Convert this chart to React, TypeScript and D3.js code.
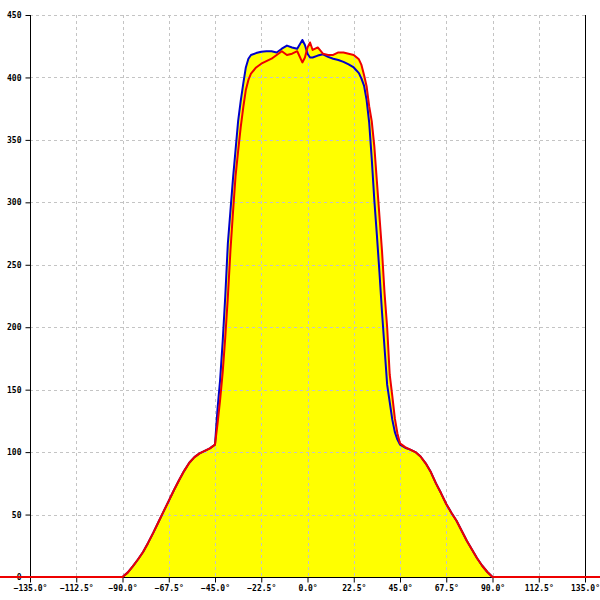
import React, { useRef, useEffect } from 'react';
import * as d3 from 'd3';

// shared sample angles (degrees)
const angles = [
  -180, -90, -87.5, -85, -82.5, -80, -77.5, -75, -72.5, -70, -67.5, -65, -62.5, -60, -57.5, -55, -52.5, -50, -47.5,
  -45, -43.75, -42.5, -41.25, -40, -38.75, -37.5, -36.25, -35, -33.75, -32.5, -31.25, -30, -28.75, -27.5,
  -25, -22.5, -20, -17.5, -15, -12.5, -10, -7.5, -5, -2.5, -1.25, 0, 1.25, 2.5, 5, 7.5, 10, 12.5, 15, 17.5, 20, 22.5,
  25, 26.25, 27.5, 28.75, 30, 31.25, 32.5, 33.75, 35, 36.25, 37.5, 38.75, 40, 41.25, 42.5, 43.75, 45,
  47.5, 50, 52.5, 55, 57.5, 60, 62.5, 65, 67.5, 70, 72.5, 75, 77.5, 80, 82.5, 85, 87.5, 90, 180,
];

const blueValues = [
  0, 0, 3.5, 8.5, 14, 20, 27.5, 35.5, 44, 52.5, 61, 69.5, 77.5, 85, 91.5, 96, 99, 101, 103,
  106, 135, 158, 189, 225, 267, 293, 319, 342, 365, 381, 395, 408, 415, 418,
  419.5, 420.5, 421, 421, 420, 423, 425.5, 424, 423, 430, 426, 419, 416, 416, 417.5, 418.5, 416.5, 415, 414, 412.5, 410.5, 408,
  403.5, 399, 393.5, 382, 364, 335, 302, 274, 244, 212, 183, 154, 140, 126, 116, 110, 106,
  103.5, 102, 100, 96.5, 91, 84, 75, 67, 58.5, 51.5, 45, 37, 29, 22, 15, 9, 4, 0, 0,
];

const redValues = [
  0, 0, 3.5, 8.5, 14, 20, 27.5, 35.5, 44, 52.5, 61, 69.5, 77.5, 85, 91.5, 96, 99, 101, 103,
  106, 123, 142, 164, 192, 224, 261, 292, 321, 341, 360, 376, 390, 398, 403,
  408, 411, 413, 415, 418, 421, 418, 419, 421, 412, 416, 424, 428, 422, 424, 419, 418, 418, 420, 420, 419, 418,
  414.5, 410, 402, 393, 377, 365, 345, 317, 289, 261, 227, 200, 162, 145, 127, 115, 107,
  104, 102, 100, 96.5, 91, 84, 75, 67, 58.5, 51.5, 45, 37, 29, 22, 15, 9, 4, 0, 0,
];

const xTicks = [-135, -112.5, -90, -67.5, -45, -22.5, 0, 22.5, 45, 67.5, 90, 112.5, 135];
const yTicks = [0, 50, 100, 150, 200, 250, 300, 350, 400, 450];

const App: React.FC = () => {
  const ref = useRef<SVGSVGElement>(null);
  const width = 600;
  const height = 600;

  useEffect(() => {
    if (!ref.current) return;
    const svg = d3.select(ref.current);
    svg.selectAll('*').remove();

    const x = d3.scaleLinear().domain([-135, 135]).range([30, 585]);
    const y = d3.scaleLinear().domain([0, 450]).range([577, 15]);

    const blue = angles.map((a, i) => [a, blueValues[i]] as [number, number]);
    const red = angles.map((a, i) => [a, redValues[i]] as [number, number]);

    const area = d3.area<[number, number]>()
      .x(d => x(d[0]))
      .y0(y(0))
      .y1(d => y(d[1]));
    const line = d3.line<[number, number]>()
      .x(d => x(d[0]))
      .y(d => y(d[1]));

    svg.append('path').datum(blue).attr('fill', '#ffff00').attr('d', area);
    svg.append('path').datum(red).attr('fill', '#ffff00').attr('d', area);

    // grid
    const grid = svg.append('g')
      .attr('stroke', '#c4c4c4')
      .attr('stroke-width', 1)
      .attr('stroke-dasharray', '3,3');
    xTicks.filter(t => t !== -135 && t !== 135).forEach(t => {
      grid.append('line')
        .attr('x1', Math.round(x(t)) + 0.5).attr('x2', Math.round(x(t)) + 0.5)
        .attr('y1', y(450)).attr('y2', y(0));
    });
    yTicks.filter(t => t !== 0).forEach(t => {
      grid.append('line')
        .attr('x1', x(-135)).attr('x2', x(135))
        .attr('y1', Math.round(y(t)) + 0.5).attr('y2', Math.round(y(t)) + 0.5);
    });

    const font = '"DejaVu Sans Mono", monospace';

    // y axis
    const yAxis = svg.append('g')
      .attr('transform', `translate(${Math.round(x(-135)) + 0.5},0)`)
      .call(d3.axisLeft(y).tickValues(yTicks).tickSize(5).tickPadding(4).tickFormat(d3.format('d')));
    yAxis.select('.domain').attr('d', `M0,${y(450)}V${y(0) + 5}`);
    yAxis.selectAll('text').attr('font-family', font).attr('font-size', 8).attr('font-weight', 'bold').attr('fill', '#000');

    // right border
    svg.append('line')
      .attr('x1', Math.round(x(135)) + 0.5).attr('x2', Math.round(x(135)) + 0.5)
      .attr('y1', y(450)).attr('y2', y(0) + 5)
      .attr('stroke', '#000');

    // x axis
    const xAxis = svg.append('g')
      .attr('transform', `translate(0,${Math.round(y(0)) + 0.5})`)
      .call(d3.axisBottom(x).tickValues(xTicks).tickSize(5).tickPadding(3)
        .tickFormat(d => `${d3.format('.1f')(d as number)}°`));
    xAxis.select('.domain').attr('d', `M${x(-135)},0H${x(135)}`);
    xAxis.selectAll('text').attr('font-family', font).attr('font-size', 8).attr('font-weight', 'bold').attr('fill', '#000');

    svg.append('path').datum(blue)
      .attr('fill', 'none').attr('stroke', '#0000cc').attr('stroke-width', 2)
      .attr('stroke-linejoin', 'round').attr('d', line);
    svg.append('path').datum(red)
      .attr('fill', 'none').attr('stroke', '#ee0000').attr('stroke-width', 2)
      .attr('stroke-linejoin', 'round').attr('d', line);
  }, []);

  return (
    <svg
      ref={ref}
      width={width}
      height={height}
      style={{ position: 'absolute', left: 0, top: 0, background: '#fff' }}
    />
  );
};

export default App;
